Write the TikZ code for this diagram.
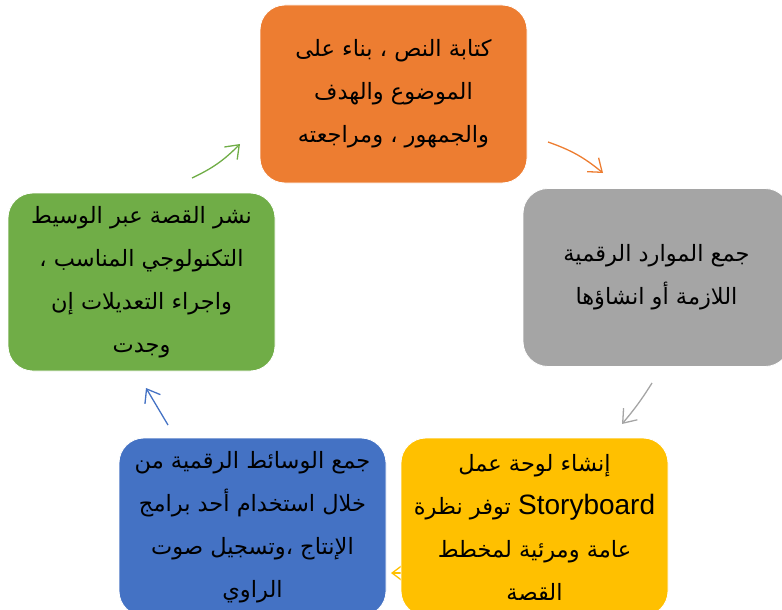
\documentclass[tikz,border=0pt]{standalone}
\usepackage{fontspec}
\usetikzlibrary{arrows.meta}
\newfontfamily\arabicfont[Script=Arabic]{DejaVu Sans}
\newfontfamily\latinfont{Liberation Sans}
\TeXXeTstate=1
\definecolor{orangebox}{HTML}{ED7D31}
\definecolor{graybox}{HTML}{A5A5A5}
\definecolor{yellowbox}{HTML}{FFC000}
\definecolor{bluebox}{HTML}{4472C4}
\definecolor{greenbox}{HTML}{70AD47}
\tikzset{
  stagebox/.style={draw=white, line width=0.8pt, rounded corners=25pt,
    minimum width=267pt, minimum height=178pt, align=center, inner sep=0pt,
    font=\arabicfont\fontsize{22.5}{43}\selectfont},
  flow/.style={-{Straight Barb[length=12pt,width=18pt]}, line width=1.3pt},
}
\begin{document}
\begin{tikzpicture}[x=1pt, y=-1pt]
        \useasboundingbox (0,0) rectangle (782,610);
        \coordinate (y1) at (402,573);
        \coordinate (y2) at (391,573);
        \draw[flow, yellowbox] (y1) -- (y2);
        \node[stagebox, fill=orangebox] (write) at (393.5,94) {\beginR كتابة النص ، بناء على\endR\\ \beginR الموضوع والهدف\endR\\ \beginR والجمهور ، ومراجعته\endR};
        \node[stagebox, fill=graybox] (collect) at (656.5,277.5) {\beginR جمع الموارد الرقمية\endR\\ \beginR اللازمة أو انشاؤها\endR};
        \node[stagebox, fill=yellowbox] (board) at (534.5,527) {\beginR إنشاء لوحة عمل\endR\\ \beginR\beginL{\latinfont\fontsize{28}{43}\selectfont Storyboard}\endL{} توفر نظرة\endR\\ \beginR عامة ومرئية لمخطط\endR\\ \beginR القصة\endR};
        \node[stagebox, fill=bluebox] (media) at (252.5,527) {\beginR جمع الوسائط الرقمية من\endR\\ \beginR خلال استخدام أحد برامج\endR\\ \beginR الإنتاج ،وتسجيل صوت\endR\\ \beginR الراوي\endR};
        \node[stagebox, fill=greenbox] (publish) at (141.5,282) {\beginR نشر القصة عبر الوسيط\endR\\ \beginR التكنولوجي المناسب ،\endR\\ \beginR واجراء التعديلات إن\endR\\ \beginR وجدت\endR};
        \coordinate (o1) at (548,142);
        \coordinate (o2) at (603,173);
        \coordinate (g1) at (652,383);
        \coordinate (g2) at (622,424);
        \coordinate (b1) at (168,425);
        \coordinate (b2) at (146,388);
        \coordinate (p1) at (192,178);
        \coordinate (p2) at (240,144);
        \draw[flow, orangebox] (o1) to[bend left=10] (o2);
        \draw[flow, graybox] (g1) to[bend left=4] (g2);
        \draw[flow, bluebox] (b1) -- (b2);
        \draw[flow, greenbox] (p1) to[bend right=10] (p2);
    \end{tikzpicture}
\end{document}
